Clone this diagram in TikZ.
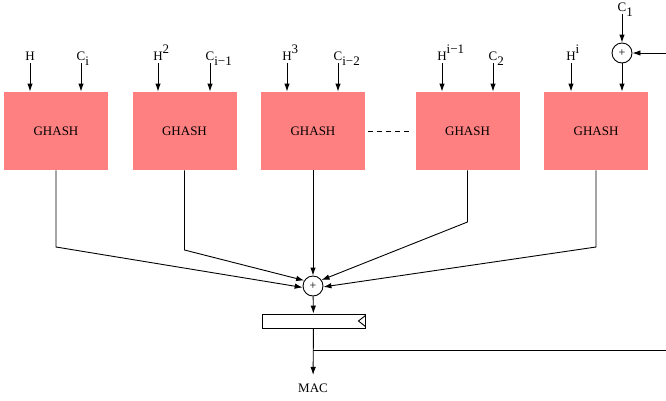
\documentclass[tikz,border=0pt]{standalone}
\usepackage{fontspec}
\setmainfont{Liberation Serif}
\usetikzlibrary{arrows.meta,positioning,calc}
\newcommand{\hsup}[1]{\rlap{\raisebox{7pt}{#1}}}
\newcommand{\csub}[1]{\rlap{\raisebox{-5pt}{#1}}}

\begin{document}
\begin{tikzpicture}[x=1pt, y=-1pt, line width=0.9pt,
  ghash/.style={rectangle, fill=red!50, minimum width=104pt, minimum height=78pt, inner sep=0pt, font=\fontsize{13}{15}\selectfont},
  lbl/.style={anchor=base, inner sep=3pt, text depth=0pt, font=\fontsize{13}{15}\selectfont},
  xorc/.style={circle, draw, minimum size=20pt, inner sep=0pt, font=\fontsize{12}{12}\selectfont},
  regbox/.style={rectangle, draw, minimum width=103pt, minimum height=14pt, inner sep=0pt},
  arr/.style={-{Latex[length=8pt,width=5.5pt]}}
]
\useasboundingbox (0,0) rectangle (666,400);

% GHASH blocks
\node[ghash] (g1) at (56,131) {GHASH};
\node[ghash] (g2) at (184.5,131) {GHASH};
\node[ghash] (g3) at (313,131) {GHASH};
\node[ghash] (g4) at (467.5,131) {GHASH};
\node[ghash] (g5) at (596,131) {GHASH};

\draw[dash pattern=on 5pt off 4pt, shorten <=3pt, shorten >=3pt] (g3) -- (g4);

% Inputs
\node[lbl] (h1) at (30,60) {H};
\node[lbl] (c1) at (81,60) {C\csub{i}};
\node[lbl] (h2) at (158,60) {H\hsup{2}};
\node[lbl] (c2) at (210,60) {C\csub{i−1}};
\node[lbl] (h3) at (287,60) {H\hsup{3}};
\node[lbl] (c3) at (338,60) {C\csub{i−2}};
\node[lbl] (h4) at (442,60) {H\hsup{i−1}};
\node[lbl] (c4) at (493,60) {C\csub{2}};
\node[lbl] (h5) at (571,60) {H\hsup{i}};
\node[lbl] (c5) at (622,11) {C\csub{1}};

\draw[arr] (h1) -- (h1 |- g1.north);
\draw[arr] (c1) -- (c1 |- g1.north);
\draw[arr] (h2) -- (h2 |- g2.north);
\draw[arr] (c2) -- (c2 |- g2.north);
\draw[arr] (h3) -- (h3 |- g3.north);
\draw[arr] (c3) -- (c3 |- g3.north);
\draw[arr] (h4) -- (h4 |- g4.north);
\draw[arr] (c4) -- (c4 |- g4.north);
\draw[arr] (h5) -- (h5 |- g5.north);

% First block mixes C_1 with the fed-back tag
\node[xorc] (x0) at (622,53) {+};
\coordinate (fbin) at (666,53);
\draw[arr] (c5) -- (x0);
\draw[arr] (fbin) -- (x0);
\draw[arr] (x0) -- (x0 |- g5.north);

% Sum of all GHASH outputs
\node[xorc] (xr) at (313,286) {+};
\coordinate (k1) at (56,247);
\coordinate (k2) at (184.5,250);
\coordinate (k4) at (467.5,222);
\coordinate (k5) at (596,247);

\draw[arr] (g1.south) -- (k1) -- (xr.188);
\draw[arr] (g2.south) -- (k2) -- (xr.148);
\draw[arr] (g3.south) -- (xr);
\draw[arr] (g4.south) -- (k4) -- (xr.35);
\draw[arr] (g5.south) -- (k5) -- (xr.355);

% Register and output
\node[regbox] (rg) at (313.5,321) {};
\draw ($(rg.east)+(0,-5.5)$) -- ($(rg.east)+(-7,0)$) -- ($(rg.east)+(0,5.5)$);
\draw[arr] (xr) -- (rg);

\node[lbl, inner sep=8pt] (mac) at (313,392) {MAC};
\draw[arr] (rg) -- (mac);

\coordinate (tap) at (313,350);
\coordinate (fbout) at (666,350);
\draw (tap) -- (fbout);

\end{tikzpicture}
\end{document}
